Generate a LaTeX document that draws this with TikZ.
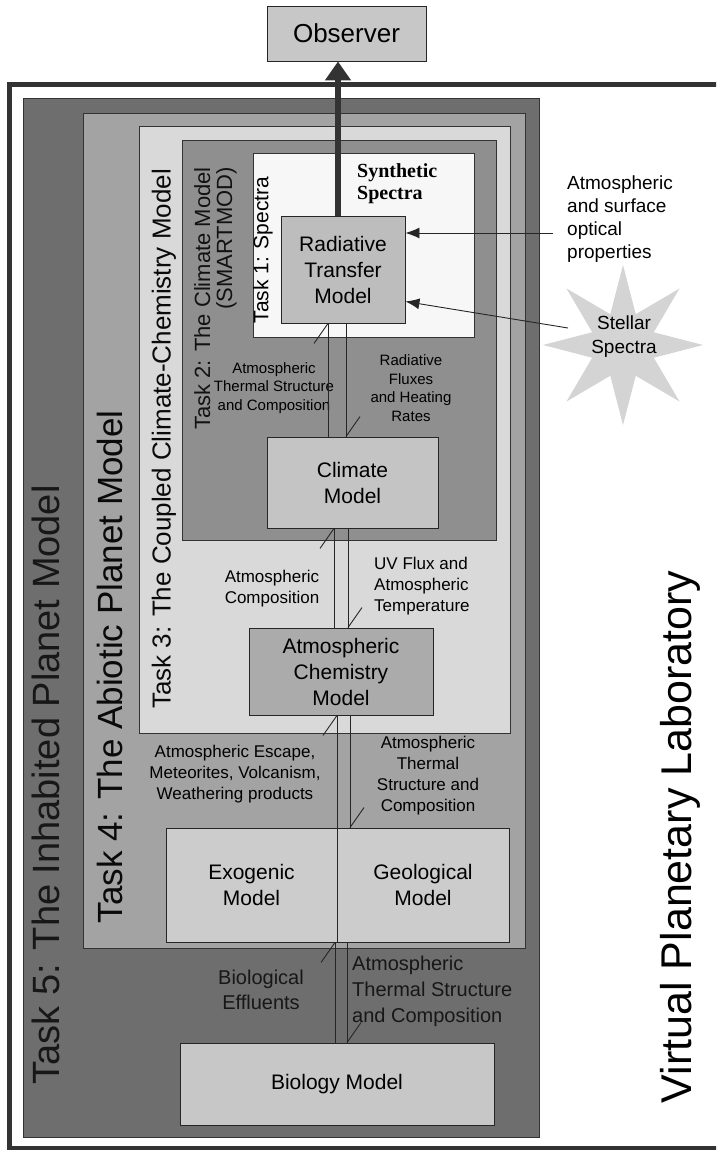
\documentclass[tikz,border=0pt]{standalone}
\usepackage{fontspec}
\setmainfont{Liberation Sans}
\newfontfamily\synfont{Liberation Serif}
\usetikzlibrary{arrows.meta,shapes.geometric,calc}

\definecolor{framegray}{gray}{0.2}
\definecolor{tfivefill}{gray}{0.43}
\definecolor{tfourfill}{gray}{0.64}
\definecolor{tthreefill}{gray}{0.85}
\definecolor{ttwofill}{gray}{0.56}
\definecolor{tonefill}{gray}{0.97}
\definecolor{rtfill}{gray}{0.74}
\definecolor{climfill}{gray}{0.77}
\definecolor{chemfill}{gray}{0.67}
\definecolor{geofill}{gray}{0.80}
\definecolor{biofill}{gray}{0.78}
\definecolor{obsfill}{gray}{0.78}
\definecolor{starfill}{gray}{0.83}
\definecolor{dimtext}{gray}{0.09}
\definecolor{twotext}{gray}{0.07}
\definecolor{darktext}{gray}{0.04}

\begin{document}
\begin{tikzpicture}[x=1pt,y=-1pt,
  taskbox/.style={draw=black!80,line width=0.8pt,inner sep=0pt},
  modelbox/.style={draw=black!85,line width=0.9pt,align=center,inner sep=0pt,font=\fontsize{21}{26}\selectfont},
  note/.style={align=center,inner sep=0pt,font=\fontsize{17}{21}\selectfont},
  vlabel/.style={rotate=90,inner sep=0pt},
  link/.style={black!85,line width=0.9pt},
  feed/.style={black!85,line width=0.9pt,-{Latex[length=14pt,width=11pt]}},
  obsarrow/.style={black!80,line width=6pt,-{Triangle[length=19pt,width=25pt]}}]

\useasboundingbox (0,0) rectangle (716,1150);
\clip (0,0) rectangle (716,1150);

% the laboratory frame
\draw[framegray,line width=5pt] (9,85) rectangle (760,1148);

% nested tasks
\node[taskbox,fill=tfivefill,minimum width=516pt,minimum height=1039pt] (t5) at (281,617.5) {};
\node[taskbox,fill=tfourfill,minimum width=442pt,minimum height=835pt] (t4) at (304,530.5) {};
\node[taskbox,fill=tthreefill,minimum width=371pt,minimum height=607pt] (t3) at (324.5,429.5) {};
\node[taskbox,fill=ttwofill,minimum width=314pt,minimum height=400pt] (t2) at (339,340) {};
\node[taskbox,fill=tonefill,minimum width=221pt,minimum height=184pt] (t1) at (363.5,245) {};

\node[vlabel,text=dimtext,font=\fontsize{38}{40}\selectfont] (t5lbl) at (46,785) {Task 5: The Inhabited Planet Model};
\node[vlabel,text=darktext,font=\fontsize{35}{38}\selectfont] (t4lbl) at (110,667) {Task 4: The Abiotic Planet Model};
\node[vlabel,text=darktext,font=\fontsize{26}{28}\selectfont] (t3lbl) at (164,439) {Task 3: The Coupled Climate-Chemistry Model};
\node[vlabel,text=twotext,font=\fontsize{22}{22}\selectfont,align=right,anchor=north east] (t2lbl) at (194,167) {Task 2: The Climate Model\\(SMARTMOD)};
\node[vlabel,font=\fontsize{21}{22}\selectfont] (t1lbl) at (263,250) {Task 1: Spectra};
\node[inner sep=0pt,anchor=west,align=left,font=\synfont\bfseries\fontsize{20}{22}\selectfont] (synlbl) at (357,184) {Synthetic\\Spectra};

% models
\node[modelbox,fill=rtfill,minimum width=124pt,minimum height=107pt] (rt) at (343,269.5) {Radiative\\Transfer\\Model};
\node[modelbox,fill=climfill,minimum width=171pt,minimum height=91pt] (clim) at (352.5,482.5) {Climate\\Model};
\node[modelbox,fill=chemfill,minimum width=184pt,minimum height=87pt] (chem) at (341,671.5) {Atmospheric\\Chemistry\\Model};
\node[modelbox,fill=geofill,minimum width=171pt,minimum height=114pt] (exo) at (251.5,885) {Exogenic\\Model};
\node[modelbox,fill=geofill,minimum width=172pt,minimum height=114pt] (geo) at (423,885) {Geological\\Model};
\node[modelbox,fill=biofill,minimum width=314pt,minimum height=82pt] (bio) at (337,1084) {Biology Model};
\node[modelbox,fill=obsfill,minimum width=159pt,minimum height=55pt,font=\fontsize{26}{28}\selectfont] (obs) at (346.5,33.5) {Observer};

% exchanged quantities
\node[note,font=\fontsize{15}{18.5}\selectfont] (thermA) at (274,388) {Atmospheric\\Thermal Structure\\and Composition};
\node[note,font=\fontsize{15}{18.5}\selectfont] (fluxes) at (411,388) {Radiative\\Fluxes\\and Heating\\Rates};
\node[note] (compo) at (272,589) {Atmospheric\\Composition};
\node[note,anchor=west,align=left] (uvflux) at (374,586) {UV Flux and\\Atmospheric\\Temperature};
\node[note] (escape) at (235,774) {Atmospheric Escape,\\Meteorites, Volcanism,\\Weathering products};
\node[note] (thermB) at (428,776) {Atmospheric\\Thermal\\Structure and\\Composition};
\node[note,text=dimtext,font=\fontsize{20}{25}\selectfont] (effluent) at (261,990) {Biological\\Effluents};
\node[note,anchor=west,align=left,text=dimtext,font=\fontsize{20}{26}\selectfont] (thermC) at (352,991) {Atmospheric\\Thermal Structure\\and Composition};

\foreach \up/\dn/\xx in {rt/clim/328,rt/clim/346,clim/chem/334,clim/chem/348,chem/geo/337,chem/geo/350,exo/bio/335,exo/bio/347}{
  \coordinate (lx) at (\xx,0);
  \draw[link] (lx |- \up.south) -- (lx |- \dn.north);
}
\foreach \up/\xx in {rt/328,clim/334,chem/337,exo/335}{
  \coordinate (lx) at (\xx,0);
  \draw[link] (lx |- \up.south) -- ++(-14,20);
}
\foreach \dn/\xx in {clim/346,chem/348,geo/350,bio/347}{
  \coordinate (lx) at (\xx,0);
  \draw[link] (lx |- \dn.north) -- ++(14,-20);
}

% outside inputs
\node[star,star points=8,star point ratio=2.4,minimum size=160pt,fill=starfill,inner sep=0pt] (star) at (623,345) {};
\node[note,font=\fontsize{19}{24}\selectfont] (stellar) at (624,337) {Stellar\\Spectra};
\node[note,anchor=west,align=left,font=\fontsize{19}{23}\selectfont] (optics) at (567,219) {Atmospheric\\and surface\\optical\\properties};
\coordinate (optin) at (553,233);
\coordinate (starin) at (568,328);
\draw[feed] (optin) -- (optin -| rt.east);
\draw[feed] (starin) -- ($(rt.east)+(0,32)$);

\coordinate (rtup) at ($(rt.north)+(-5,0)$);
\draw[obsarrow] (rtup) -- (rtup |- obs.south);

\node[vlabel,font=\fontsize{43}{46}\selectfont] (vpl) at (680,837) {Virtual Planetary Laboratory};
\end{tikzpicture}
\end{document}
